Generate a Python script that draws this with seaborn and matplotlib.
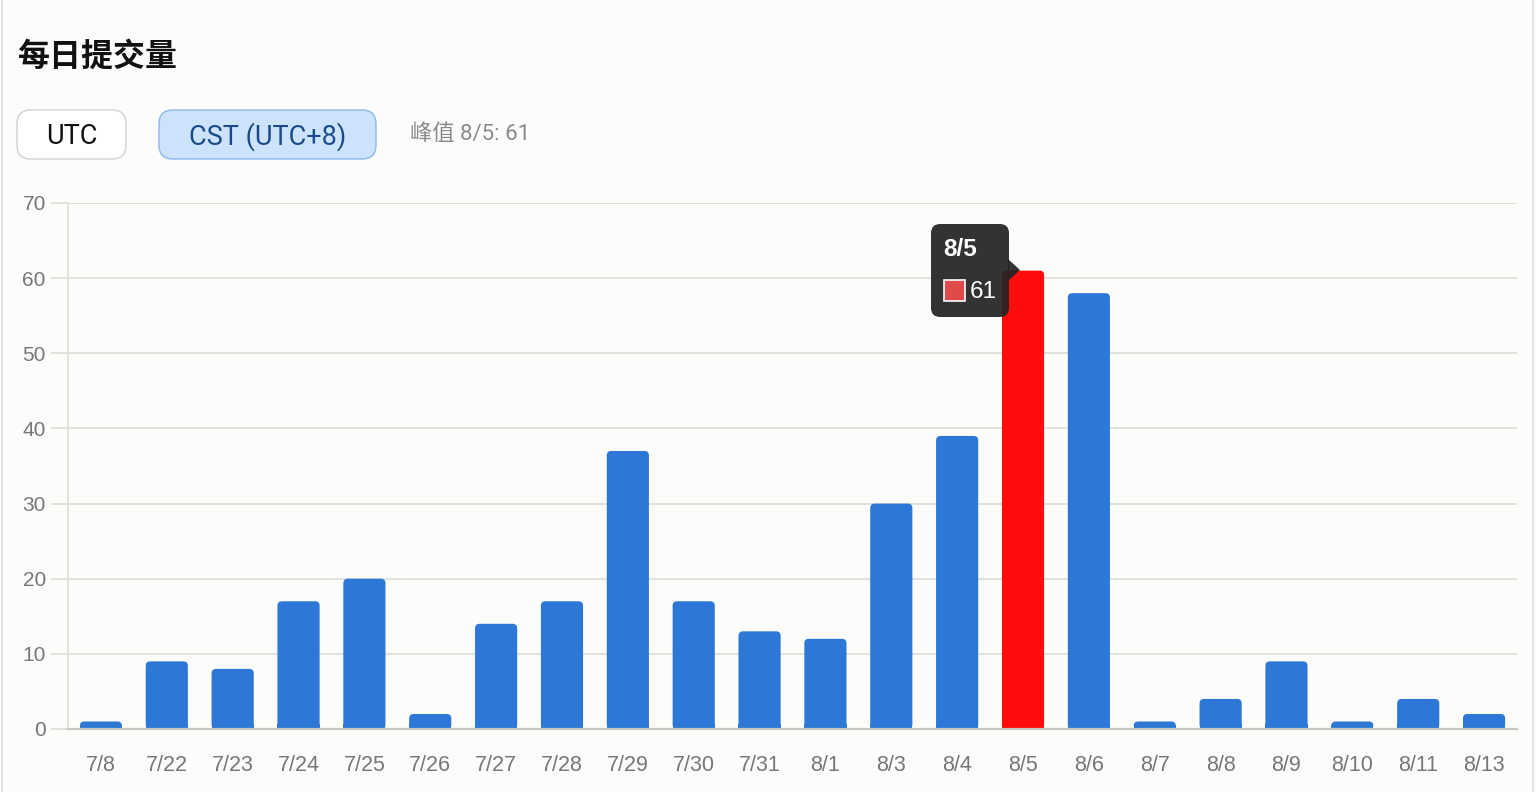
import numpy as np
import pandas as pd
import matplotlib
matplotlib.use("Agg")
import matplotlib.pyplot as plt
import seaborn as sns
from matplotlib.patches import FancyBboxPatch, Rectangle, Polygon
from matplotlib.lines import Line2D

dates = ['7/8', '7/22', '7/23', '7/24', '7/25', '7/26', '7/27', '7/28', '7/29', '7/30', '7/31',
         '8/1', '8/3', '8/4', '8/5', '8/6', '8/7', '8/8', '8/9', '8/10', '8/11', '8/13']
counts = [1, 9, 8, 17, 20, 2, 14, 17, 37, 17, 13, 12, 30, 39, 61, 58, 1, 4, 9, 1, 4, 2]
y_ticks = [0, 10, 20, 30, 40, 50, 60, 70]
highlight = '8/5'

BG = '#fcfcfa'
BLUE = '#2d78d6'
RED = '#ff0d0d'

sns.set_theme(style='white')
plt.rcParams['font.family'] = ['Liberation Sans', 'Noto Sans CJK SC', 'DejaVu Sans']

df = pd.DataFrame({'date': dates, 'count': counts})
df['kind'] = np.where(df['date'] == highlight, 'peak', 'normal')

fig = plt.figure(figsize=(15.36, 7.92), dpi=100, facecolor=BG)
W, H = 1536, 792
ax = fig.add_axes([68 / W, 1 - 729 / H, (1517 - 68) / W, (729 - 203) / H])
ax.set_facecolor(BG)

sns.barplot(data=df, x='date', y='count', hue='kind', palette={'normal': BLUE, 'peak': RED},
            width=0.64, legend=False, ax=ax, zorder=3, saturation=1)

ax.set_ylim(0, 70)
ax.set_xlim(-0.5, len(dates) - 0.5)
ax.set_yticks(y_ticks)
ax.set_xlabel('')
ax.set_ylabel('')

# rounded tops: replace each bar with a rounded box + square base
px_x = (1517 - 68) / len(dates)
px_y = (729 - 203) / 70
r_px = 4.5
for p in list(ax.patches):
    x, w, h = p.get_x(), p.get_width(), p.get_height()
    if h <= 0:
        continue
    fc = p.get_facecolor()
    p.remove()
    rs = r_px / px_x
    ax.add_patch(FancyBboxPatch((x, 0), w, h, boxstyle=f'round,pad=0,rounding_size={rs}',
                                mutation_aspect=px_x / px_y, facecolor=fc, edgecolor='none', zorder=3))
    ax.add_patch(Rectangle((x, 0), w, min(h / 2, r_px / px_y + 0.01), facecolor=fc,
                           edgecolor='none', zorder=3))

ax.grid(axis='y', color='#e0e0da', linewidth=1.3, zorder=0)
ax.grid(axis='x', visible=False)
for side in ['top', 'right']:
    ax.spines[side].set_visible(False)
ax.spines['left'].set_color('#e0e0da')
ax.spines['left'].set_linewidth(1.3)
ax.spines['bottom'].set_color('#c8c8c0')
ax.spines['bottom'].set_linewidth(1.6)
ax.spines['bottom'].set_zorder(4)
ax.tick_params(axis='y', length=12, width=1.3, color='#e0e0da', pad=4, labelsize=15, labelcolor='#777777', left=True)
ax.tick_params(axis='x', length=0, pad=19, labelsize=15.5, labelcolor='#777777')

# title and controls
fig.text(17 / W, 1 - 57 / H, '每日提交量', fontsize=23, fontweight='bold', color='#111111',
         family=['Noto Sans CJK SC'], va='center', ha='left')

def button(x0, x1, label, fc, ec, tc):
    b = FancyBboxPatch((x0 / W, 1 - 159 / H), (x1 - x0) / W, 49 / H,
                       boxstyle='round,pad=0,rounding_size=0.009', mutation_aspect=W / H,
                       transform=fig.transFigure, facecolor=fc, edgecolor=ec, linewidth=1.0)
    fig.patches.append(b)
    fig.text((x0 + x1) / 2 / W, 1 - 137 / H, label, fontsize=19.5, color=tc,
             family=['Roboto', 'DejaVu Sans'], ha='center', va='center')

button(17, 126, 'UTC', '#ffffff', '#d2d2d2', '#111111')
button(159, 376, 'CST (UTC+8)', '#cce3fb', '#8ab8ee', '#1a4a8a')
fig.text(410 / W, 1 - 135 / H, '峰值 8/5: 61', fontsize=16, color='#8a8a8a',
         family=['Roboto', 'Noto Sans CJK SC'], ha='left', va='center')

# tooltip
tip = FancyBboxPatch((931 / W, 1 - 317 / H), 78 / W, 93 / H,
                     boxstyle='round,pad=0,rounding_size=0.006', mutation_aspect=W / H,
                     transform=fig.transFigure, facecolor='#222222', edgecolor='none', alpha=0.92, zorder=10)
fig.patches.append(tip)
arrow = Polygon([(1008 / W, 1 - 259 / H), (1020 / W, 1 - 270 / H), (1008 / W, 1 - 281 / H)],
                closed=True, transform=fig.transFigure, facecolor='#222222', edgecolor='none',
                alpha=0.92, zorder=10)
fig.patches.append(arrow)
fig.text(943 / W, 1 - 250 / H, highlight, fontsize=17.5, fontweight='bold', color='white',
         ha='left', va='center', zorder=11)
fig.patches.append(Rectangle((944 / W, 1 - 301 / H), 21 / W, 21 / H, transform=fig.transFigure,
                             facecolor='#e04a4a', edgecolor='white', linewidth=1.2, zorder=11))
fig.text(970 / W, 1 - 292 / H, str(counts[dates.index(highlight)]), fontsize=17.5, color='white',
         ha='left', va='center', zorder=11)

# card borders
fig.add_artist(Line2D([1.5 / W, 1.5 / W], [0, 1], color='#e2e2e0', linewidth=1.5))
fig.add_artist(Line2D([1533 / W, 1533 / W], [0, 1], color='#e2e2e0', linewidth=1.5))

fig.savefig('out.png', dpi=100, facecolor=BG)
